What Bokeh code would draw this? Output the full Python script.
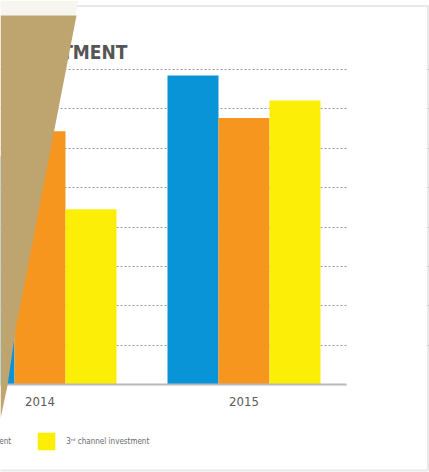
from bokeh.plotting import figure
from bokeh.models import (ColumnDataSource, Range1d, FixedTicker, Label, Legend, LegendItem,
                          PolyAnnotation, BoxAnnotation)
from bokeh.transform import dodge
from bokeh.embed import file_html
from bokeh.resources import INLINE

# ---- data ----
years = ["2014", "2015"]
series = ["1ˢᵗ channel investment", "2ⁿᵈ channel investment", "3ʳᵈ channel investment"]
first_channel = [5.8, 7.85]
second_channel = [6.43, 6.77]
third_channel = [4.45, 7.21]
grid_values = [1, 2, 3, 4, 5, 6, 7, 8]
title_text = "CHANNEL INVESTMENT"

colors = ["#0a94d8", "#f7961e", "#fdee07"]
NARROW = "'Liberation Sans Narrow', 'DejaVu Sans Condensed', 'Roboto', sans-serif"

W, H = 429, 472
# layout: pixel position of group 0 centre, pixels per group, baseline, pixels per unit
X0, PX_X, BASE, PX_Y = 39.5, 204.0, 384.0, 39.375
PLOT_RIGHT = 346.0

xs = list(range(len(years)))
src = ColumnDataSource(dict(x=xs, first=first_channel, second=second_channel, third=third_channel))

x_range = Range1d(-X0 / PX_X, (W - X0) / PX_X)
y_range = Range1d(-(H - BASE) / PX_Y, BASE / PX_Y)

p = figure(width=W, height=H, x_range=x_range, y_range=y_range,
           output_backend="svg", toolbar_location=None, y_axis_location=None, title=None,
           min_border=0, min_border_left=0, min_border_right=0, min_border_top=0,
           min_border_bottom=0)
p.outline_line_color = None
p.background_fill_color = "white"
p.border_fill_color = "white"

bw = 0.25
renderers = []
for off, col, c in zip([-bw, 0, bw], ["first", "second", "third"], colors):
    r = p.vbar(x=dodge("x", off), top=col, width=bw, bottom=0, source=src,
               fill_color=c, line_color=None)
    renderers.append(r)

# grid
p.xgrid.visible = False
p.ygrid.ticker = FixedTicker(ticks=grid_values)
p.ygrid.grid_line_color = "#9c9c9c"
p.ygrid.grid_line_dash = "2 2"
p.ygrid.grid_line_width = 1

# x axis, fixed at the zero line
ax = p.xaxis[0]
ax.fixed_location = 0
ax.bounds = (x_range.start, (PLOT_RIGHT - X0) / PX_X)
ax.ticker = FixedTicker(ticks=xs)
ax.major_label_overrides = {i: y for i, y in zip(xs, years)}
ax.axis_line_color = "#b8b8b8"
ax.axis_line_width = 2
ax.major_tick_line_color = None
ax.minor_tick_line_color = None
ax.major_label_standoff = 6
ax.major_label_text_font = NARROW
ax.major_label_text_font_size = "13px"
ax.major_label_text_color = "#5a5a5a"

# mask: grid lines stop at the plot's right edge
p.add_layout(BoxAnnotation(left=PLOT_RIGHT + 0.5, right=426, top=H - 8, bottom=H - 468,
                           left_units="screen", right_units="screen",
                           top_units="screen", bottom_units="screen",
                           fill_color="white", fill_alpha=1, line_alpha=0))

# legend
legend = Legend(items=[LegendItem(label=s, renderers=[r]) for s, r in zip(series, renderers)],
                orientation="horizontal", location=(-242, H - 452),
                glyph_width=22, glyph_height=22, label_height=22, label_standoff=9,
                spacing=24, padding=0, margin=0, border_line_alpha=0,
                background_fill_alpha=0, label_text_font=NARROW,
                label_text_font_size="8px", label_text_color="#6a6a6a")
p.add_layout(legend, "center")

# title
p.add_layout(Label(x=127, y=H - 51, x_units="screen", y_units="screen", text=title_text,
                   text_align="right", text_baseline="alphabetic", text_font=NARROW,
                   text_font_style="bold", text_font_size="19px", text_color="#555555"))

# card border
p.add_layout(BoxAnnotation(left=-10, right=427.5, top=H - 5.5, bottom=H - 470,
                           left_units="screen", right_units="screen",
                           top_units="screen", bottom_units="screen",
                           fill_alpha=0, line_color="#b2b2b2", line_width=2))

# overlay decoration
p.add_layout(PolyAnnotation(xs=[0, 78, 75, 0], ys=[H, H, H - 15, H - 15], xs_units="screen",
                            ys_units="screen", fill_color="#f6f5f0", fill_alpha=1,
                            line_alpha=0, level="overlay"))
p.add_layout(PolyAnnotation(xs=[0, 76, 15, 7, 0], ys=[H - 15, H - 15, H - 330, H - 385, H - 418],
                            xs_units="screen", ys_units="screen", fill_color="#bea46e",
                            fill_alpha=1, line_alpha=0, level="overlay"))

open("out.html", "w").write(file_html(p, INLINE))
